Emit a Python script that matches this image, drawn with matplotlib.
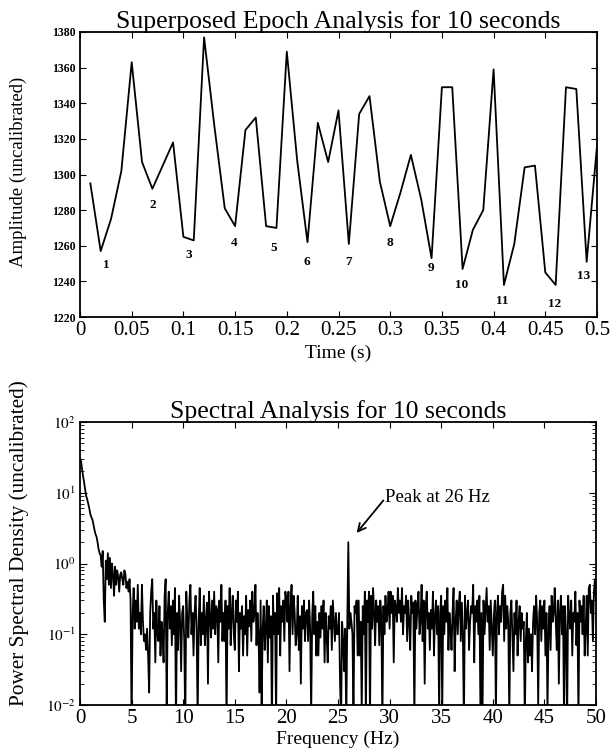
import numpy as np
import matplotlib
matplotlib.use("Agg")
import matplotlib.pyplot as plt
from matplotlib.ticker import FixedLocator, LogLocator, NullFormatter

plt.rcParams['font.family'] = ['Liberation Serif', 'DejaVu Serif']
plt.rcParams['mathtext.fontset'] = 'stix'

# ---- Superposed epoch data ----
time_s = [0.01, 0.02, 0.03, 0.04, 0.05, 0.06, 0.07, 0.08, 0.09, 0.10,
          0.11, 0.12, 0.13, 0.14, 0.15, 0.16, 0.17, 0.18, 0.19, 0.20,
          0.21, 0.22, 0.23, 0.24, 0.25, 0.26, 0.27, 0.28, 0.29, 0.30,
          0.31, 0.32, 0.33, 0.34, 0.35, 0.36, 0.37, 0.38, 0.39, 0.40,
          0.41, 0.42, 0.43, 0.44, 0.45, 0.46, 0.47, 0.48, 0.49, 0.50]
amplitude = [1295, 1257, 1275, 1302, 1363, 1307, 1292, 1305, 1318, 1265,
             1263, 1377, 1327, 1281, 1271, 1325, 1332, 1271, 1270, 1369,
             1308, 1262, 1329, 1307, 1336, 1261, 1334, 1344, 1296, 1271,
             1290, 1311, 1286, 1253, 1349, 1349, 1247, 1269, 1280, 1359,
             1238, 1261, 1304, 1305, 1245, 1238, 1349, 1348, 1251, 1316]
minima_labels = ['1', '2', '3', '4', '5', '6', '7', '8', '9', '10', '11', '12', '13']
label_t = [0.025, 0.070, 0.105, 0.149, 0.187, 0.219, 0.260, 0.300, 0.339, 0.369, 0.408, 0.459, 0.487]
label_amp = [1249, 1283, 1255, 1261.5, 1259, 1251, 1251, 1261.5, 1247.5, 1238, 1229, 1227.5, 1243]

# ---- Spectral data (0 to 50 Hz, 0.1 Hz steps) ----
psd = [30, 28, 22, 17, 14, 11, 9, 8, 7, 6,
       5, 4.5, 4.2, 3.6, 3.0, 2.6, 2.4, 2.0, 1.6, 1.4,
       1.3, 0.9, 1.5, 0.3, 0.15, 1.1, 0.6, 1.4, 0.5, 1.2,
       0.45, 1.0, 0.7, 0.35, 0.9, 0.5, 0.8, 0.65, 0.4, 0.7,
       0.75, 0.6, 0.5, 0.8, 0.7, 0.45, 0.55, 0.4, 0.6, 0.3,
       0.005, 0.2, 0.45, 0.12, 0.3, 0.15, 0.5, 0.12, 0.2, 0.1,
       0.5, 0.15, 0.08, 0.1, 0.06, 0.12, 0.05, 0.015, 0.2, 0.4,
       0.6, 0.12, 0.2, 0.04, 0.3, 0.1, 0.08, 0.25, 0.05, 0.15,
       0.1, 0.04, 0.35, 0.6, 0.008, 0.2, 0.4, 0.12, 0.25, 0.07,
       0.3, 0.1, 0.45, 0.005, 0.2, 0.06, 0.35, 0.15, 0.03, 0.2,
       0.25, 0.08, 0.005, 0.4, 0.15, 0.09, 0.3, 0.5, 0.1, 0.2,
       0.05, 0.2, 0.35, 0.12, 0.006, 0.15, 0.45, 0.07, 0.2, 0.1,
       0.35, 0.07, 0.15, 0.28, 0.02, 0.4, 0.18, 0.09, 0.3, 0.12,
       0.4, 0.1, 0.25, 0.22, 0.04, 0.3, 0.15, 0.5, 0.08, 0.2,
       0.08, 0.3, 0.005, 0.25, 0.12, 0.45, 0.07, 0.2, 0.35, 0.1,
       0.06, 0.3, 0.15, 0.4, 0.03, 0.2, 0.12, 0.25, 0.05, 0.18,
       0.1, 0.35, 0.05, 0.22, 0.13, 0.3, 0.08, 0.4, 0.15, 0.2,
       0.5, 0.07, 0.2, 0.1, 0.015, 0.3, 0.008, 0.12, 0.25, 0.06,
       0.12, 0.3, 0.04, 0.25, 0.09, 0.18, 0.005, 0.35, 0.1, 0.2,
       0.006, 0.38, 0.1, 0.45, 0.05, 0.25, 0.15, 0.3, 0.08, 0.4,
       0.3, 0.15, 0.4, 0.03, 0.25, 0.5, 0.1, 0.35, 0.2, 0.07,
       0.1, 0.35, 0.06, 0.18, 0.02, 0.25, 0.12, 0.3, 0.08, 0.2,
       0.22, 0.08, 0.3, 0.12, 0.007, 0.18, 0.4, 0.1, 0.25, 0.05,
       0.15, 0.05, 0.2, 0.09, 0.25, 0.12, 0.3, 0.04, 0.2, 0.1,
       0.04, 0.18, 0.12, 0.25, 0.06, 0.3, 0.15, 0.08, 0.2, 0.1,
       0.1, 0.2, 0.02, 0.006, 0.15, 0.08, 0.03, 0.12, 0.005, 0.15,
       2.0, 0.12, 0.2, 0.15, 0.1, 0.007, 0.25, 0.2, 0.3, 0.05,
       0.3, 0.05, 0.15, 0.008, 0.25, 0.1, 0.4, 0.006, 0.3, 0.15,
       0.4, 0.006, 0.35, 0.12, 0.45, 0.2, 0.07, 0.3, 0.15, 0.25,
       0.07, 0.3, 0.18, 0.005, 0.25, 0.1, 0.35, 0.15, 0.2, 0.4,
       0.12, 0.4, 0.2, 0.35, 0.04, 0.3, 0.25, 0.15, 0.45, 0.2,
       0.3, 0.15, 0.45, 0.1, 0.25, 0.2, 0.35, 0.08, 0.3, 0.15,
       0.06, 0.35, 0.2, 0.28, 0.006, 0.3, 0.12, 0.25, 0.4, 0.1,
       0.15, 0.5, 0.08, 0.3, 0.02, 0.25, 0.4, 0.12, 0.2, 0.06,
       0.22, 0.12, 0.4, 0.05, 0.18, 0.3, 0.1, 0.25, 0.007, 0.2,
       0.35, 0.008, 0.25, 0.1, 0.3, 0.15, 0.45, 0.06, 0.2, 0.12,
       0.06, 0.2, 0.45, 0.03, 0.15, 0.3, 0.1, 0.25, 0.4, 0.08,
       0.28, 0.1, 0.005, 0.35, 0.12, 0.2, 0.3, 0.06, 0.15, 0.25,
       0.2, 0.5, 0.04, 0.25, 0.15, 0.3, 0.1, 0.35, 0.008, 0.2,
       0.006, 0.3, 0.1, 0.22, 0.45, 0.15, 0.25, 0.06, 0.3, 0.12,
       0.05, 0.18, 0.3, 0.007, 0.2, 0.35, 0.1, 0.25, 0.15, 0.4,
       0.5, 0.08, 0.35, 0.12, 0.25, 0.15, 0.006, 0.2, 0.3, 0.1,
       0.03, 0.2, 0.1, 0.3, 0.05, 0.15, 0.25, 0.08, 0.2, 0.12,
       0.15, 0.006, 0.08, 0.2, 0.04, 0.12, 0.05, 0.1, 0.03, 0.15,
       0.25, 0.1, 0.35, 0.15, 0.01, 0.2, 0.3, 0.08, 0.25, 0.12,
       0.3, 0.05, 0.2, 0.008, 0.12, 0.25, 0.06, 0.35, 0.15, 0.2,
       0.45, 0.15, 0.06, 0.3, 0.02, 0.2, 0.35, 0.1, 0.25, 0.007,
       0.25, 0.1, 0.005, 0.35, 0.18, 0.12, 0.3, 0.05, 0.2, 0.15,
       0.4, 0.07, 0.2, 0.006, 0.3, 0.15, 0.25, 0.1, 0.35, 0.05,
       0.12, 0.35, 0.05, 0.45, 0.5, 0.2, 0.3, 0.08, 0.4, 0.6,
       0.3]
freq = np.linspace(0, 50, len(psd))

W, H = 613, 753
fig = plt.figure(figsize=(W / 100, H / 100), dpi=100)

def rect(l, t, r, b):
    return [l / W, 1 - b / H, (r - l) / W, (b - t) / H]

# ---------------- Top panel ----------------
ax1 = fig.add_axes(rect(80, 32, 597, 317))
ax1.plot(time_s, amplitude, color='black', lw=1.3)
ax1.set_xlim(0, 0.5)
ax1.set_ylim(1220, 1380)
ax1.set_xticks([0, 0.05, 0.1, 0.15, 0.2, 0.25, 0.3, 0.35, 0.4, 0.45, 0.5])
ax1.set_xticklabels(['0', '0.05', '0.1', '0.15', '0.2', '0.25', '0.3', '0.35', '0.4', '0.45', '0.5'])
ax1.set_yticks(np.arange(1220, 1381, 20))
ax1.tick_params(axis='x', labelsize=15, direction='in', top=True, length=4, pad=3)
ax1.tick_params(axis='y', labelsize=8.5, direction='in', right=True, length=4, pad=3)
for lab in ax1.get_yticklabels():
    lab.set_fontweight('bold')
ax1.set_title('Superposed Epoch Analysis for 10 seconds', fontsize=18.5, pad=3)
ax1.set_xlabel('Time (s)', fontsize=14, labelpad=3)
ax1.set_ylabel('Amplitude (uncalibrated)', fontsize=13.5)
ax1.yaxis.set_label_coords(-0.1025, 0.51)
for s, tx, ty in zip(minima_labels, label_t, label_amp):
    ax1.text(tx, ty, s, fontsize=9.5, fontweight='bold', ha='center', va='center')
for sp in ax1.spines.values():
    sp.set_linewidth(1.3)

# ---------------- Bottom panel ----------------
ax2 = fig.add_axes(rect(80, 422, 596, 705))
ax2.semilogy(freq, psd, color='black', lw=1.3)
ax2.set_xlim(0, 50)
ax2.set_ylim(1e-2, 1e2)
ax2.set_xticks(np.arange(0, 51, 5))
ax2.yaxis.set_major_locator(FixedLocator([1e-2, 1e-1, 1e0, 1e1, 1e2]))
ax2.set_yticklabels([r'$10^{-2}$', r'$10^{-1}$', r'$10^{0}$', r'$10^{1}$', r'$10^{2}$'])
ax2.yaxis.set_minor_locator(LogLocator(base=10, subs=np.arange(2, 10), numticks=20))
ax2.yaxis.set_minor_formatter(NullFormatter())
ax2.tick_params(axis='x', labelsize=15, direction='in', top=True, length=4, pad=3)
ax2.tick_params(axis='y', which='major', labelsize=11, direction='in', right=True, length=5, pad=3)
ax2.tick_params(axis='y', which='minor', direction='in', right=True, length=3)
ax2.set_title('Spectral Analysis for 10 seconds', fontsize=18.5, pad=3)
ax2.set_xlabel('Frequency (Hz)', fontsize=14, labelpad=2)
ax2.set_ylabel('Power Spectral Density (uncalibrated)', fontsize=15.3)
ax2.yaxis.set_label_coords(-0.099, 0.572)
ax2.text(29.6, 8.6, 'Peak at 26 Hz', fontsize=13.5, ha='left', va='center')
ax2.annotate('', xy=(26.8, 2.7), xytext=(29.4, 7.8),
             arrowprops=dict(arrowstyle='->', color='black', lw=1.3,
                             shrinkA=0, shrinkB=0, mutation_scale=14))
for sp in ax2.spines.values():
    sp.set_linewidth(1.3)

fig.savefig('out.png', dpi=100)
